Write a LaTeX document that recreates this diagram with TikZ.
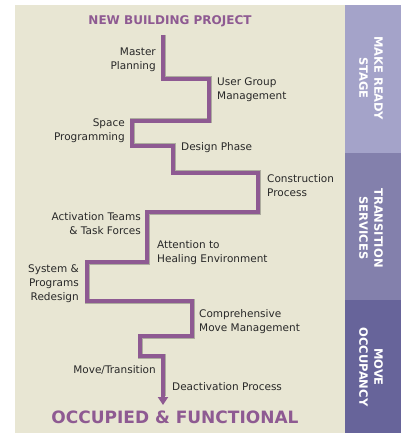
\documentclass[tikz,border=0pt]{standalone}
\usepackage{fontspec}
\setmainfont{DejaVu Sans}
\usepackage{tikz}
\usetikzlibrary{arrows.meta}
\definecolor{paper}{RGB}{232, 230, 211}
\definecolor{stair}{RGB}{142, 90, 146}
\definecolor{ink}{RGB}{40, 40, 40}
\definecolor{stageA}{RGB}{164, 163, 201}
\definecolor{stageB}{RGB}{131, 128, 172}
\definecolor{stageC}{RGB}{103, 100, 154}

\begin{document}
\begin{tikzpicture}[x=1pt, y=-1pt,
    step label/.style={ink, inner sep=0pt, font=\fontsize{10.5}{14}\selectfont},
    stage label/.style={white, rotate=-90, align=center, inner sep=0pt,
      font=\fontsize{11.5}{15}\selectfont\bfseries}]
  \useasboundingbox (0, 0) rectangle (401, 435);

  \fill[paper] (15, 5) rectangle (345, 433);
  \fill[stageA] (345, 5) rectangle (401, 153);
  \fill[stageB] (345, 153) rectangle (401, 300);
  \fill[stageC] (345, 300) rectangle (401, 433);

  \node[stage label] (ready) at (371, 78) {MAKE READY\\STAGE};
  \node[stage label] (transition) at (371, 228) {TRANSITION\\SERVICES};
  \node[stage label] (occupancy) at (371, 367) {MOVE\\OCCUPANCY};

  \node[stair, font=\fontsize{12}{14}\selectfont\bfseries] (project) at (170, 21) {NEW BUILDING PROJECT};
  \node[stair, font=\fontsize{17}{20}\selectfont\bfseries] (occupied) at (175, 417) {OCCUPIED \& FUNCTIONAL};

  \coordinate (start) at (163, 35);
  \coordinate (finish) at (163, 405);

  % staircase
  \draw[black, opacity=0.25, line width=5pt, shift={(1.5, 1.5)}] (start) -- ++(0, 44) -- ++(46, 0) -- ++(0, 42)
    -- ++(-77, 0) -- ++(0, 25) -- ++(41, 0) -- ++(0, 27) -- ++(85, 0) -- ++(0, 39)
    -- ++(-111, 0) -- ++(0, 50) -- ++(-60, 0) -- ++(0, 39) -- ++(105, 0) -- ++(0, 35)
    -- ++(-52, 0) -- ++(0, 20) -- ++(23, 0) -- ++(0, 40);
  \draw[stair, line width=4pt, -{Triangle[length=8pt, width=10pt]}] (start) -- ++(0, 44) -- ++(46, 0) -- ++(0, 42)
    -- ++(-77, 0) -- ++(0, 25) -- ++(41, 0) -- ++(0, 27) -- ++(85, 0) -- ++(0, 39)
    -- ++(-111, 0) -- ++(0, 50) -- ++(-60, 0) -- ++(0, 39) -- ++(105, 0) -- ++(0, 35)
    -- ++(-52, 0) -- ++(0, 20) -- ++(23, 0) -- (finish);

  \node[step label, anchor=east, align=right] (master) at (156, 60) {Master\\Planning};
  \node[step label, anchor=west, align=left] (usergroup) at (217, 90) {User Group\\Management};
  \node[step label, anchor=east, align=right] (space) at (125, 131) {Space\\Programming};
  \node[step label, anchor=west] (design) at (181, 148) {Design Phase};
  \node[step label, anchor=west, align=left] (construction) at (267, 186) {Construction\\Process};
  \node[step label, anchor=east, align=right] (activation) at (141, 224) {Activation Teams\\\& Task Forces};
  \node[step label, anchor=west, align=left] (healing) at (157, 253) {Attention to\\Healing Environment};
  \node[step label, anchor=east, align=right] (system) at (79, 284) {System \&\\Programs\\Redesign};
  \node[step label, anchor=west, align=left] (move) at (199, 322) {Comprehensive\\Move Management};
  \node[step label, anchor=east] (transit) at (156, 370) {Move/Transition};
  \node[step label, anchor=west] (deactivation) at (172, 387) {Deactivation Process};
\end{tikzpicture}
\end{document}
